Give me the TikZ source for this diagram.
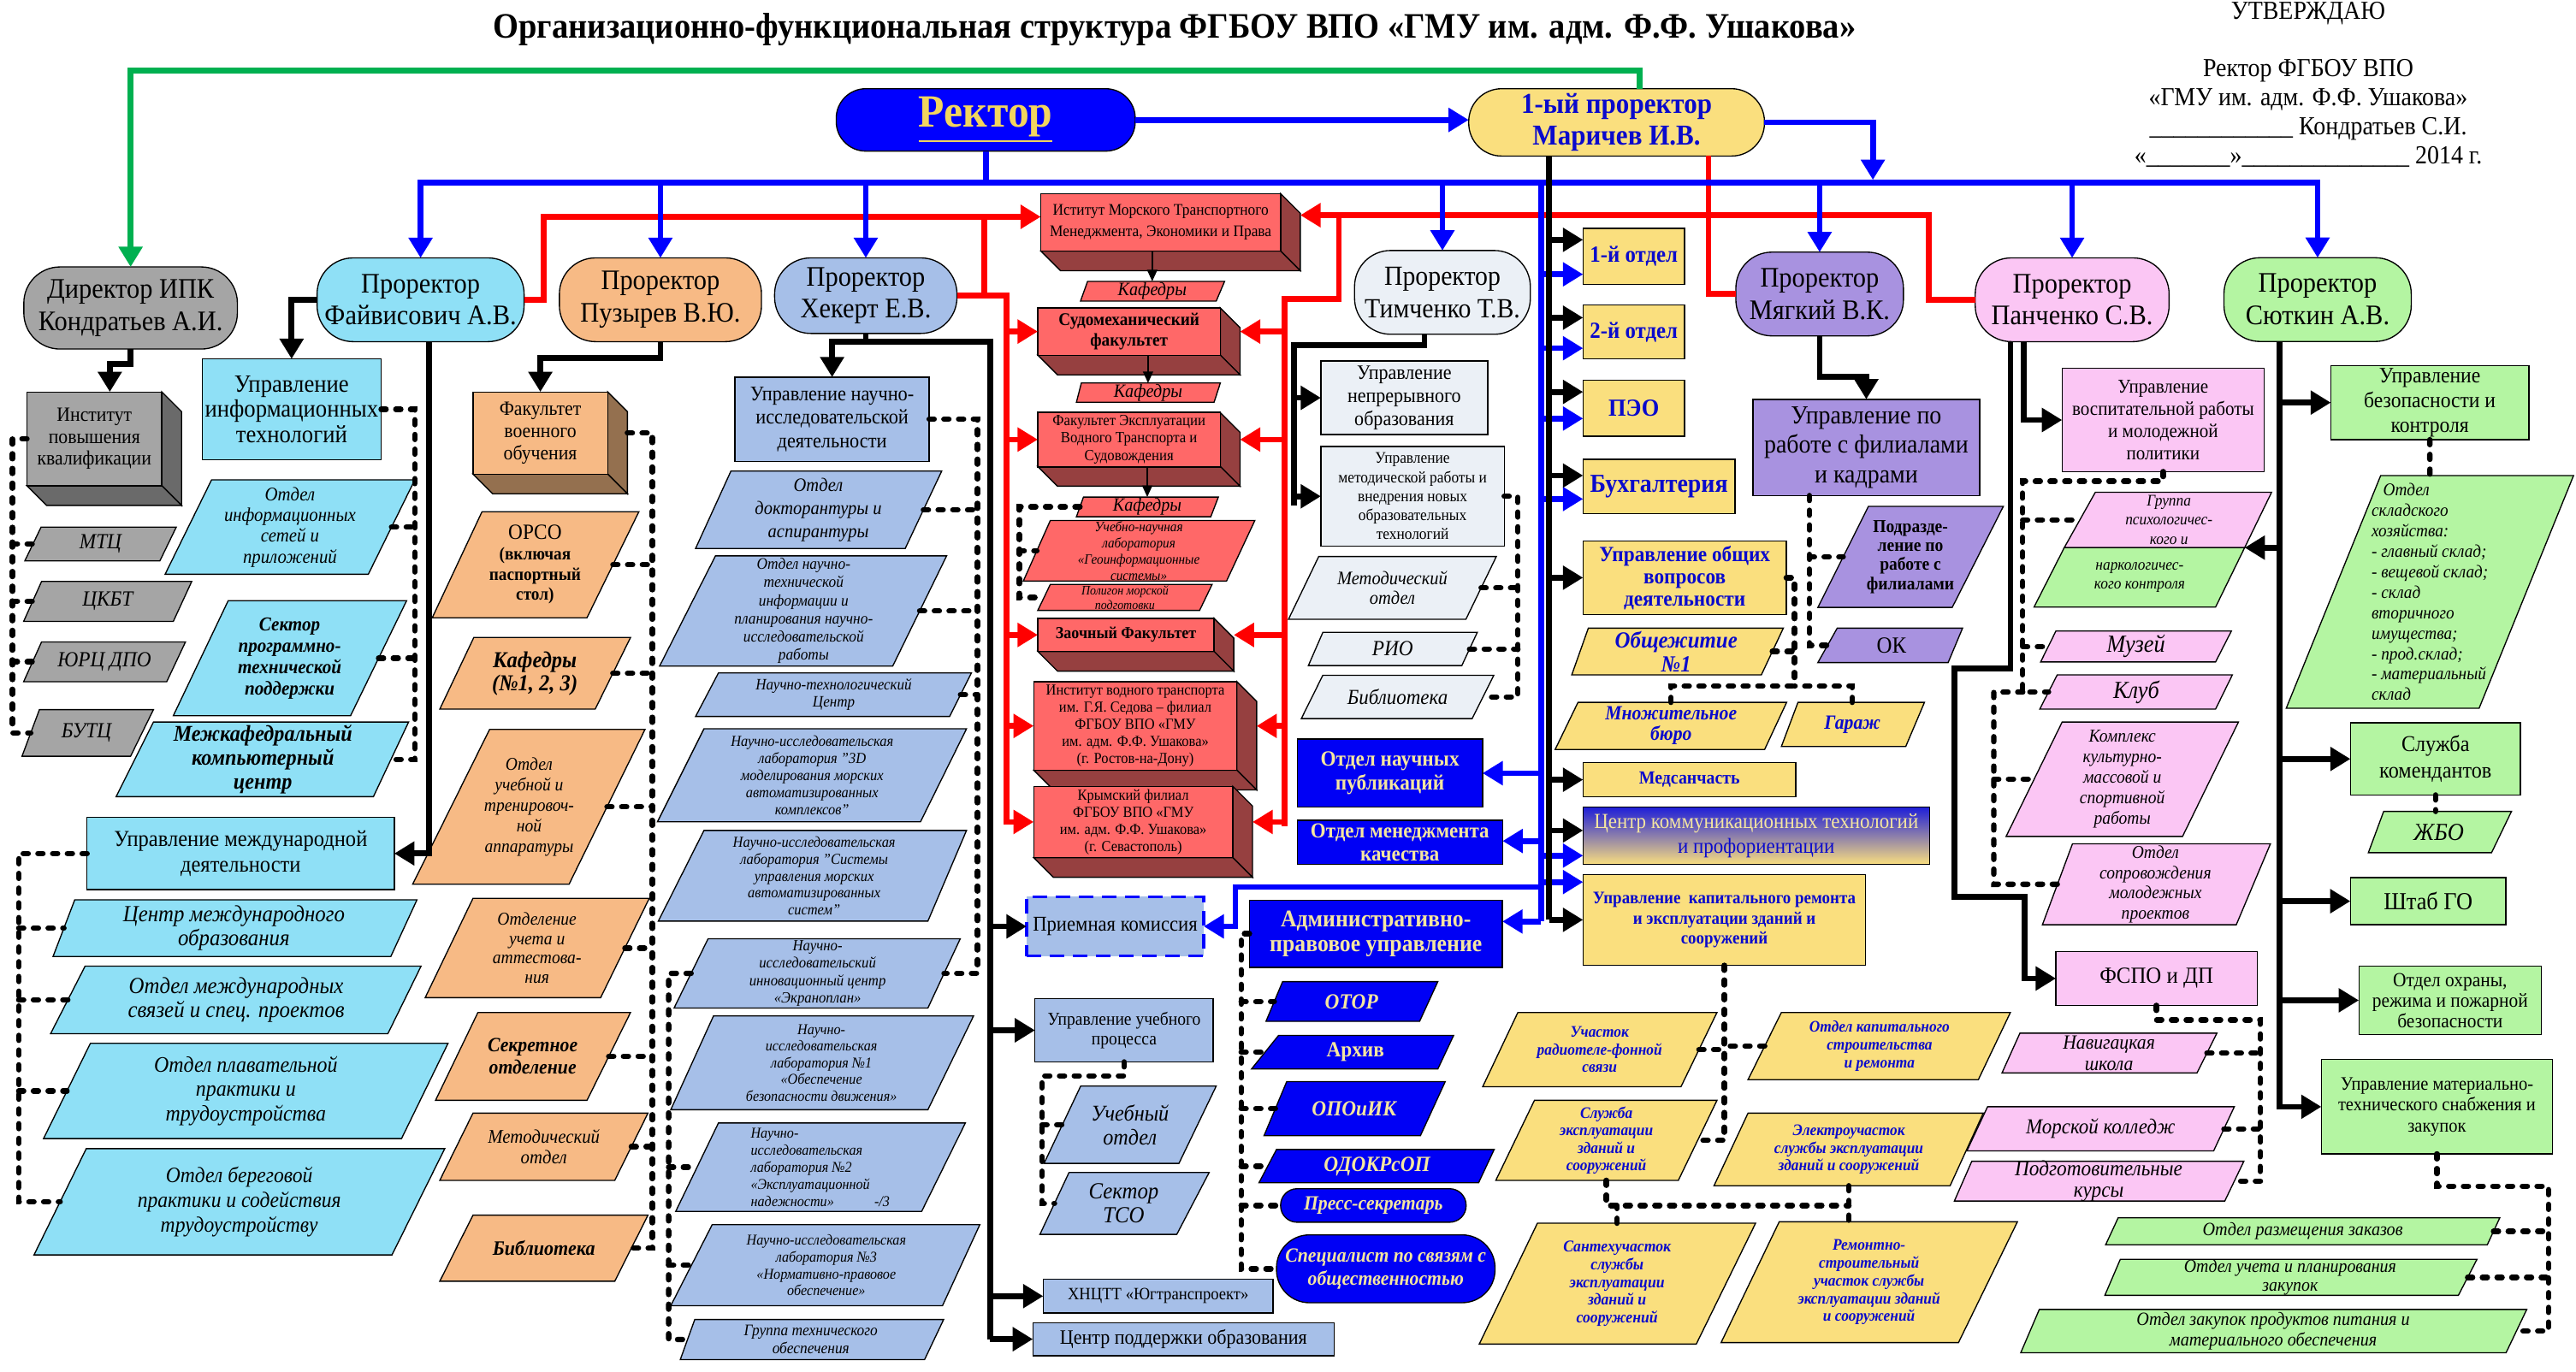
\documentclass[tikz,border=0pt]{standalone}
\usepackage{fontspec}
\setmainfont{Liberation Serif}[FakeStretch=0.92]
\usetikzlibrary{arrows.meta,calc}
\definecolor{cBlue}{HTML}{0000FF}
\definecolor{cRed}{HTML}{FF0000}
\definecolor{cGreen}{HTML}{00B050}
\definecolor{cYel}{HTML}{FADF7E}
\definecolor{cLbl}{HTML}{8FE0F6}
\definecolor{cOrg}{HTML}{F7BA85}
\definecolor{cOrgD}{HTML}{94704F}
\definecolor{cStl}{HTML}{A6BFE8}
\definecolor{cTim}{HTML}{EBF0F6}
\definecolor{cPur}{HTML}{A892E0}
\definecolor{cPnk}{HTML}{FBC6F4}
\definecolor{cGrn}{HTML}{B4F5A2}
\definecolor{cGry}{HTML}{A5A5A5}
\definecolor{cGryD}{HTML}{6A6A6A}
\definecolor{cRd}{HTML}{FF6868}
\definecolor{cRdD}{HTML}{964040}
\definecolor{cDbl}{HTML}{0000F5}
\definecolor{cYtx}{HTML}{F5E6A0}
\definecolor{cBtx}{HTML}{0A0ACC}
\definecolor{cRtx}{HTML}{F2D55F}
\definecolor{cCk}{HTML}{1E1ED8}
\newcommand\fsz[2]{\fontsize{#1}{#2}\selectfont}
% parallelogram: name, opts, xtl, xtr, xbl, xbr, ytop, ybottom, text
\newcommand\pgram[9]{%
 \pgfmathsetmacro\pgcx{(#3+#4+#5+#6)/4}%
 \pgfmathsetmacro\pgcy{(#7+#8)/2}%
 \pgfmathsetmacro\pgw{(#4+#6-#3-#5)/2}%
 \pgfmathsetmacro\pgh{#8-#7}%
 \path[pgb,#2] (#3,#7) -- (#4,#7) -- (#6,#8) -- (#5,#8) -- cycle;%
 \node[pgt,#2,fill=none,draw=none,minimum width=\pgw*0.2mm,minimum height=\pgh*0.2mm] (#1) at (\pgcx,\pgcy) {#9};%
}
% 3D box: name, opts, cx, cy, w, h, depth, side colour, text
\newcommand\boxdd[9]{%
 \pgfmathsetmacro\bxL{#3-#5/2}\pgfmathsetmacro\bxR{#3+#5/2}%
 \pgfmathsetmacro\bxT{#4-#6/2}\pgfmathsetmacro\bxB{#4+#6/2}%
 \pgfmathsetmacro\bxRd{\bxR+#7}\pgfmathsetmacro\bxTd{\bxT+#7}%
 \pgfmathsetmacro\bxBd{\bxB+#7}\pgfmathsetmacro\bxLd{\bxL+#7}%
 \filldraw[fill=#8,draw=black,line width=0.4pt] (\bxR,\bxT) -- (\bxRd,\bxTd) -- (\bxRd,\bxBd) -- (\bxR,\bxB) -- cycle;%
 \filldraw[fill=#8,draw=black,line width=0.4pt] (\bxL,\bxB) -- (\bxR,\bxB) -- (\bxRd,\bxBd) -- (\bxLd,\bxBd) -- cycle;%
 \node[box,#2,minimum width=#5*0.2mm,minimum height=#6*0.2mm] (#1) at (#3,#4) {#9};%
}
\begin{document}
\begin{tikzpicture}[x=0.2mm,y=-0.2mm,
 wh/.style 2 args={minimum width=#1*0.2mm,minimum height=#2*0.2mm},
 box/.style={draw=black,line width=0.4pt,inner sep=1pt,outer sep=0pt,align=center},
 stad/.style={box,rounded corners=4.4mm},
 pgb/.style={draw=black,line width=0.4pt},
 pgt/.style={inner sep=0pt,outer sep=0pt,align=center},
 conn/.style={line width=2pt},
 bk/.style={conn,draw=black},
 bl/.style={conn,draw=cBlue},
 rl/.style={conn,draw=cRed},
 gl/.style={conn,draw=cGreen},
 arr/.style={-{Triangle[length=7pt,width=8pt]}},
 tarr/.style={draw=black,line width=0.5pt,-{Triangle[length=4pt,width=3.5pt]}},
 dotc/.style={draw=black,line width=1.9pt,dash pattern=on 1.7pt off 3.4pt,line cap=round}]
\path[use as bounding box] (0,0) rectangle (1568,835);
\fill[white] (0,0) rectangle (1568,835);

% ---------- title and approval ----------
\node[font=\fsz{12.4}{14}\bfseries] (title) at (715,18) {Организационно-функциональная структура ФГБОУ ВПО «ГМУ им. адм. Ф.Ф. Ушакова»};
\node[font=\fsz{9}{10}] (utv) at (1405,8) {УТВЕРЖДАЮ};
\node[font=\fsz{9}{10},align=center] (appr) at (1405,69) {Ректор ФГБОУ ВПО\\«ГМУ им. адм. Ф.Ф. Ушакова»\\\_\_\_\_\_\_\_\_\_\_\_\_ Кондратьев С.И.\\«\_\_\_\_\_\_\_»\_\_\_\_\_\_\_\_\_\_\_\_\_\_ 2014 г.};

% ---------- top level ----------
\node[stad,rounded corners=3.6mm,fill=cBlue,wh={182}{38},text=cRtx,font=\fsz{16}{18}\bfseries] (rector) at (600,73) {\underline{Ректор}};
\node[stad,rounded corners=4mm,fill=cYel,wh={180}{41},text=cBtx,font=\fsz{10}{11.2}\bfseries] (pro1) at (984,74.5) {1-ый проректор\\Маричев И.В.};

\node[stad,fill=cGry,wh={130}{50},font=\fsz{9.8}{11.2}] (ipk) at (79.5,187.5) {Директор ИПК\\Кондратьев А.И.};
\node[stad,fill=cLbl,wh={126}{51},font=\fsz{9.8}{11.2}] (fai) at (256,182.5) {Проректор\\Файвисович А.В.};
\node[stad,fill=cOrg,wh={123}{51},font=\fsz{9.8}{11.2}] (puz) at (402,182.5) {Проректор\\Пузырев В.Ю.};
\node[stad,fill=cStl,wh={111}{46},font=\fsz{9.8}{11.2}] (hek) at (527,180) {Проректор\\Хекерт Е.В.};
\node[stad,fill=cTim,wh={107}{51},font=\fsz{9.6}{11.2}] (tim) at (878,178) {Проректор\\Тимченко Т.В.};
\node[stad,fill=cPur,wh={102}{51},font=\fsz{9.8}{11.2}] (mya) at (1107.6,179) {Проректор\\Мягкий В.К.};
\node[stad,fill=cPnk,wh={118}{51},font=\fsz{9.8}{11.2}] (pan) at (1261.3,182.5) {Проректор\\Панченко С.В.};
\node[stad,fill=cGrn,wh={114}{51},font=\fsz{9.8}{11.2}] (syu) at (1410.7,182.4) {Проректор\\Сюткин А.В.};

% ---------- IPK ----------
\boxdd{ipq}{fill=cGry,font=\fsz{7}{7.6}}{57.45}{267.15}{82.1}{57.1}{12}{cGryD}{Институт\\повышения\\квалификации}
\pgram{mtc}{fill=cGry,font=\fsz{7.5}{8}\itshape}{25}{107.3}{15.1}{97.3}{320.9}{341.5}{МТЦ}
\pgram{ckbt}{fill=cGry,font=\fsz{7.5}{8}\itshape}{25.3}{116.7}{14.4}{105.5}{354}{378.3}{ЦКБТ}
\pgram{yurc}{fill=cGry,font=\fsz{7.5}{8}\itshape}{25.3}{112.9}{14.4}{101.5}{390.8}{415}{ЮРЦ ДПО}
\pgram{butc}{fill=cGry,font=\fsz{7.5}{8}\itshape}{24}{93.4}{13.4}{79.5}{432}{460.4}{БУТЦ}

% ---------- Faivisovich ----------
\node[box,fill=cLbl,wh={108.6}{61.4},font=\fsz{8.6}{8.8}] (uit) at (177.5,249.2) {Управление\\информационных\\технологий};
\pgram{ois}{fill=cLbl,font=\fsz{6.7}{7.2}\itshape}{128.8}{252.5}{100.5}{224.2}{292.1}{349.6}{Отдел\\информационных\\сетей и\\приложений}
\pgram{spt}{fill=cLbl,font=\fsz{6.8}{7.4}\bfseries\itshape}{138.9}{247.5}{105.5}{213.4}{365.7}{435.7}{Сектор\\программно-\\технической\\поддержки}
\pgram{mki}{fill=cLbl,font=\fsz{7.8}{8.2}\bfseries\itshape}{93.4}{248.7}{70.7}{227.3}{439.6}{485}{Межкафедральный\\компьютерный\\центр}
\node[box,fill=cLbl,wh={187}{43.9},font=\fsz{7.9}{8.7}] (uma) at (146.5,519.6) {Управление международной\\деятельности};
\pgram{cmo}{fill=cLbl,font=\fsz{8}{8.5}\itshape}{45.5}{253.8}{32.3}{237.9}{547.8}{582.3}{Центр международного\\образования}
\pgram{oms}{fill=cLbl,font=\fsz{8}{8.2}\itshape}{51.8}{256.3}{30.8}{236.1}{588.2}{629.3}{Отдел международных\\связей и спец. проектов}
\pgram{opp}{fill=cLbl,font=\fsz{7.7}{8.4}\itshape}{55}{272.7}{26.5}{244.4}{635.2}{693.2}{Отдел плавательной\\практики и\\трудоустройства}
\pgram{obp}{fill=cLbl,font=\fsz{7.6}{8.7}\itshape}{52.5}{270.7}{20.7}{238.6}{699.3}{764}{Отдел береговой\\практики и содействия\\трудоустройству}

% ---------- Puzyrev ----------
\boxdd{fvo}{fill=cOrg,font=\fsz{7}{7.7}}{328.9}{263.6}{82}{50}{12}{cOrgD}{Факультет\\военного\\обучения}
\pgram{orso}{fill=cOrg,font=\fsz{6.2}{7}\bfseries}{293.4}{388.9}{263.1}{357.3}{311.5}{376.1}{{\fsz{7.5}{9}\mdseries ОРСО}\\(включая\\паспортный\\стол)}
\pgram{kaf}{fill=cOrg,font=\fsz{7.9}{8}\bfseries\itshape}{288.4}{383.8}{267.7}{362.3}{388.1}{431.7}{Кафедры\\(№1, 2, 3)}
\pgram{oyt}{fill=cOrg,font=\fsz{6.3}{7.1}\itshape}{298}{392.6}{251.2}{346.4}{444.1}{538.3}{Отдел\\учебной и\\тренировоч-\\ной\\аппаратуры}
\pgram{ouch}{fill=cOrg,font=\fsz{6.3}{6.7}\itshape}{287.9}{395.2}{258.8}{365.6}{546.9}{607.4}{Отделение\\учета и\\аттестова-\\ния}
\pgram{sek}{fill=cOrg,font=\fsz{7}{7.7}\bfseries\itshape}{290.9}{383.8}{265.1}{357.3}{616.4}{669.9}{Секретное\\отделение}
\pgram{met1}{fill=cOrg,font=\fsz{6.7}{7}\itshape}{287.9}{394.4}{267.7}{374.2}{677.7}{718.6}{Методический\\отдел}
\pgram{bib1}{fill=cOrg,font=\fsz{7.1}{8}\bfseries\itshape}{287.9}{394.4}{267.7}{374.2}{739.8}{780}{Библиотека}

% ---------- Hekert ----------
\node[box,fill=cStl,wh={118.2}{51.2},font=\fsz{7.2}{8.2}] (unid) at (506.5,255.2) {Управление научно-\\исследовательской\\деятельности};
\pgram{odk}{fill=cStl,font=\fsz{6.6}{8}\itshape}{444.9}{573.2}{423.4}{551}{286.8}{333.9}{Отдел\\докторантуры и\\аспирантуры}
\pgram{ont}{fill=cStl,font=\fsz{5.6}{6.3}\itshape}{435.5}{576.2}{401.5}{543.4}{338.4}{405.5}{Отдел научно-\\технической\\информации и\\планирования научно-\\исследовательской\\работы}
\pgram{ntc}{fill=cStl,font=\fsz{5.5}{5.9}\itshape}{437.3}{591.3}{423.4}{578}{409.7}{436.2}{Научно-технологический\\Центр}
\pgram{nl3d}{fill=cStl,font=\fsz{5.3}{5.9}\itshape}{428.5}{588.3}{400.2}{560.3}{443.7}{500.3}{Научно-исследовательская\\лаборатория "3D\\моделирования морских\\автоматизированных\\комплексов"}
\pgram{nlsu}{fill=cStl,font=\fsz{5.3}{5.9}\itshape}{428.5}{588.3}{400.7}{564.8}{505.6}{560.8}{Научно-исследовательская\\лаборатория "Системы\\управления морских\\автоматизированных\\систем"}
\pgram{ekr}{fill=cStl,font=\fsz{5.4}{6.1}\itshape}{431}{584.5}{410.3}{564.8}{571.5}{613.7}{Научно-\\исследовательский\\инновационный центр\\«Экраноплан»}
\pgram{nl1}{fill=cStl,font=\fsz{5.2}{5.8}\itshape}{434.3}{592.6}{408.3}{564.8}{618.5}{675.6}{Научно-\\исследовательская\\лаборатория №1\\«Обеспечение\\безопасности движения»}
\pgram{nl2}{fill=cStl,font=\fsz{5.2}{5.9}\itshape,align=left}{437.3}{587.6}{411.3}{561}{683.7}{737.5}{Научно-\\исследовательская\\лаборатория №2\\«Эксплуатационной\\надежности»\hspace{14pt}-/3}
\pgram{nl3}{fill=cStl,font=\fsz{5.2}{5.9}\itshape}{433.5}{596.4}{408.3}{573.7}{745.6}{794.9}{Научно-исследовательская\\лаборатория №3\\«Нормативно-правовое\\обеспечение»}
\pgram{gto}{fill=cStl,font=\fsz{5.6}{6.3}\itshape}{422.9}{574.4}{414.1}{562.8}{803.3}{827.7}{Группа технического\\обеспечения}
\node[box,fill=cStl,draw=cBlue,dash pattern=on 5pt off 3pt,line width=1pt,wh={107.8}{36},font=\fsz{7.3}{8}] (prk) at (678.8,564) {Приемная комиссия};
\node[box,fill=cStl,wh={108.5}{38.5},font=\fsz{6.3}{6.9}] (uup) at (684.25,627.25) {Управление учебного\\процесса};
\pgram{uch}{fill=cStl,font=\fsz{7.8}{8.2}\itshape}{657.8}{740.3}{635.5}{717.6}{661.2}{708.3}{Учебный\\отдел}
\pgram{sto}{fill=cStl,font=\fsz{8}{8.2}\itshape}{650.7}{736}{633}{716.3}{713.8}{751.5}{Сектор\\ТСО}
\node[box,fill=cStl,wh={139.9}{20.6},font=\fsz{6}{7}] (xnc) at (704.95,789.1) {ХНЦТТ «Югтранспроект»};
\node[box,fill=cStl,wh={183.3}{20.2},font=\fsz{7.1}{8}] (cpo) at (720.35,815.3) {Центр поддержки образования};

% ---------- red block ----------
\boxdd{imt}{fill=cRd,font=\fsz{5.6}{7.5}}{706.5}{135.35}{146}{34.9}{12}{cRdD}{Иститут Морского Транспортного\\Менеджмента, Экономики и Права}
\pgram{kf1}{fill=cRd,font=\fsz{6.5}{7}\itshape}{662}{745.4}{657.7}{740.3}{171.3}{183.3}{Кафедры}
\boxdd{smf}{fill=cRd,font=\fsz{6.2}{7.2}\bfseries}{687.25}{201.85}{111.1}{28.7}{12}{cRdD}{Судомеханический\\факультет}
\pgram{kf2}{fill=cRd,font=\fsz{6.5}{7}\itshape}{658.2}{742.8}{655.2}{739}{233.2}{244.9}{Кафедры}
\boxdd{fex}{fill=cRd,font=\fsz{5.4}{6.1}}{687.25}{267.6}{111.1}{32.8}{12}{cRdD}{Факультет Эксплуатации\\Водного Транспорта и\\Судовождения}
\pgram{kf3}{fill=cRd,font=\fsz{6.5}{7}\itshape}{659.5}{741.6}{655.2}{737}{302.6}{314.6}{Кафедры}
\pgram{unl}{fill=cRd,font=\fsz{4.9}{5.6}\itshape}{639.3}{763.8}{622.9}{746.6}{316.9}{353.7}{Учебно-научная\\лаборатория\\«Геоинформационные\\системы»}
\pgram{pol}{fill=cRd,font=\fsz{4.5}{5.1}\itshape}{639.3}{737.8}{631.7}{730.2}{355.8}{371.6}{Полигон морской\\подготовки}
\boxdd{zao}{fill=cRd,font=\fsz{5.8}{6.5}\bfseries}{685.35}{386.55}{107.3}{20.1}{12}{cRdD}{Заочный Факультет}
\boxdd{ivt}{fill=cRd,font=\fsz{5.3}{5.9}}{691.05}{441.95}{123.7}{53.9}{12}{cRdD}{Институт водного транспорта\\им. Г.Я. Седова – филиал\\ФГБОУ ВПО «ГМУ\\им. адм. Ф.Ф. Ушакова»\\(г. Ростов-на-Дону)}
\boxdd{krm}{fill=cRd,font=\fsz{5.3}{5.9}}{689.8}{500.4}{121.2}{43.4}{12}{cRdD}{Крымский филиал\\ФГБОУ ВПО «ГМУ\\им. адм. Ф.Ф. Ушакова»\\(г. Севастополь)}

% ---------- Timchenko ----------
\node[box,fill=cTim,wh={101.5}{44.8},font=\fsz{7.1}{7.9}] (unp) at (854.75,242.2) {Управление\\непрерывного\\образования};
\node[box,fill=cTim,wh={111.6}{60.7},font=\fsz{5.6}{6.6}] (umr) at (859.8,302.15) {Управление\\методической работы и\\внедрения новых\\образовательных\\технологий};
\pgram{met2}{fill=cTim,font=\fsz{6.6}{6.8}\itshape}{802.7}{910.8}{784.3}{892.3}{338.8}{377}{Методический\\отдел}
\pgram{rio}{fill=cTim,font=\fsz{7.5}{8}\itshape}{805.2}{899.2}{796.4}{889.8}{385}{405.2}{РИО}
\pgram{bib2}{fill=cTim,font=\fsz{7.4}{8}\itshape}{805.2}{909.3}{792.1}{896.1}{411.1}{437.5}{Библиотека}

% ---------- dark blue boxes ----------
\node[box,fill=cDbl,wh={112.8}{41.3},text=cYtx,font=\fsz{7.5}{8.2}\bfseries] (onp) at (846,470.65) {Отдел научных\\публикаций};
\node[box,fill=cDbl,wh={125}{26.9},text=cYtx,font=\fsz{7.4}{8.2}\bfseries] (omk) at (852.1,512.85) {Отдел менеджмента\\качества};
\node[box,fill=cDbl,wh={154}{41},text=cYtx,font=\fsz{8.3}{8.7}\bfseries] (adm) at (837.5,568.5) {Административно-\\правовое управление};
\pgram{otor}{fill=cDbl,text=cYtx,font=\fsz{7.5}{8}\bfseries\itshape}{780.7}{875.2}{770.6}{864.1}{597.6}{621.8}{ОТОР}
\pgram{arh}{fill=cDbl,text=cYtx,font=\fsz{7.5}{8}\bfseries}{778.2}{884.8}{761.8}{875.2}{630.4}{650.8}{Архив}
\pgram{opo}{fill=cDbl,text=cYtx,font=\fsz{7.5}{8}\bfseries\itshape}{783.2}{879.7}{769.4}{864.6}{658.5}{691.4}{ОПОиИК}
\pgram{odo}{fill=cDbl,text=cYtx,font=\fsz{7.5}{8}\bfseries\itshape}{777}{909.5}{766.3}{900}{699.8}{720.1}{ОДОКРсОП}
\node[stad,rounded corners=2mm,fill=cDbl,wh={112.9}{20.4},text=cYtx,font=\fsz{7}{8}\bfseries\itshape] (prs) at (835.95,733.9) {Пресс-секретарь};
\node[stad,rounded corners=4mm,fill=cDbl,wh={133}{41.3},text=cYtx,font=\fsz{7}{8}\bfseries\itshape] (spec) at (843.5,772.45) {Специалист по связям с\\общественностью};

% ---------- first vice-rector boxes ----------
\node[box,fill=cYel,wh={61.8}{34},text=cBtx,font=\fsz{8}{9}\bfseries] (o1) at (994.5,156) {1-й отдел};
\node[box,fill=cYel,wh={61.8}{32.8},text=cBtx,font=\fsz{8}{9}\bfseries] (o2) at (994.5,202.1) {2-й отдел};
\node[box,fill=cYel,wh={61.8}{34.1},text=cBtx,font=\fsz{8.5}{9}\bfseries] (peo) at (994.5,248.45) {ПЭО};
\node[box,fill=cYel,wh={92.4}{33.2},text=cBtx,font=\fsz{9}{10}\bfseries] (bux) at (1009.8,296.2) {Бухгалтерия};
\node[box,fill=cYel,wh={123.7}{44.8},text=cBtx,font=\fsz{7.5}{7.7}\bfseries] (uov) at (1025.45,351.7) {Управление общих\\вопросов\\деятельности};
\pgram{obs}{fill=cYel,text=cBtx,font=\fsz{8}{8.2}\bfseries\itshape}{966.8}{1085.5}{956.7}{1072.1}{382.4}{410.9}{Общежитие\\№1}
\pgram{mnb}{fill=cYel,text=cBtx,font=\fsz{7}{7.1}\bfseries\itshape}{960.5}{1087.5}{946.6}{1074.1}{427.6}{456.3}{Множительное\\бюро}
\pgram{gar}{fill=cYel,text=cBtx,font=\fsz{7}{8}\bfseries\itshape}{1094.4}{1171.4}{1084.3}{1160}{427.6}{454.5}{Гараж}
\node[box,fill=cYel,wh={129.5}{20.6},text=cBtx,font=\fsz{6.4}{7}\bfseries] (msc) at (1028.35,474.7) {Медсанчасть};
\node[box,top color=cCk,bottom color=cYel,wh={210.8}{35},font=\fsz{7.4}{8.7}] (ckt) at (1069,508.8) {{\color{cYtx}Центр коммуникационных технологий}\\{\color{cBtx}и профориентации}};
\node[box,fill=cYel,wh={172}{55.2},text=cBtx,font=\fsz{6.1}{7}\bfseries] (ukr) at (1049.6,560.1) {Управление\ \ капитального ремонта\\и эксплуатации зданий и\\сооружений};
\pgram{urs}{fill=cYel,text=cBtx,font=\fsz{5.6}{6.1}\bfseries\itshape}{923.9}{1045.1}{902.5}{1023.2}{616.4}{661.6}{Участок\\радиотеле-фонной\\связи}
\pgram{oks}{fill=cYel,text=cBtx,font=\fsz{5.6}{6.1}\bfseries\itshape}{1084.3}{1223.7}{1064}{1204.2}{616.4}{657.3}{Отдел капитального\\строительства\\и ремонта}
\pgram{sle}{fill=cYel,text=cBtx,font=\fsz{5.6}{6.1}\bfseries\itshape}{934}{1045.1}{910.5}{1021.6}{669.9}{718.6}{Служба\\эксплуатации\\зданий и\\сооружений}
\pgram{eluc}{fill=cYel,text=cBtx,font=\fsz{5.6}{6.1}\bfseries\itshape}{1064}{1207.2}{1043.3}{1187}{677.7}{721.9}{Электроучасток\\службы эксплуатации\\зданий и сооружений}
\pgram{san}{fill=cYel,text=cBtx,font=\fsz{5.7}{6.2}\bfseries\itshape}{935.8}{1068.6}{900.4}{1032.5}{744.7}{818.3}{Сантехучасток\\службы\\эксплуатации\\зданий и\\сооружений}
\pgram{rem}{fill=cYel,text=cBtx,font=\fsz{5.6}{6.2}\bfseries\itshape}{1083}{1228}{1047.6}{1192.1}{743.8}{817.4}{Ремонтно-\\строительный\\участок службы\\эксплуатации зданий\\и сооружений}

% ---------- Myagkiy ----------
\node[box,fill=cPur,wh={138}{58.6},font=\fsz{9}{10.2}] (upf) at (1136,272.4) {Управление по\\работе с филиалами\\и кадрами};
\pgram{pod}{fill=cPur,font=\fsz{6.3}{6.6}\bfseries}{1137.3}{1219.4}{1106.5}{1188.3}{308.3}{369.8}{Подразде-\\ление по\\работе с\\филиалами}
\pgram{okk}{fill=cPur,font=\fsz{8}{9}}{1118.3}{1194.6}{1106.5}{1185.8}{382.4}{403.4}{ОК}

% ---------- Panchenko ----------
\node[box,fill=cPnk,wh={122.9}{62.8},font=\fsz{6.8}{7.7}] (uvr) at (1316.65,255.7) {Управление\\воспитательной работы\\и молодежной\\политики};
\pgram{grpa}{fill=cPnk,font=\fsz{5.6}{6.6}\itshape}{1275.4}{1382.7}{1256.5}{1366.3}{299.7}{333.4}{Группа\\психологичес-\\кого и}
\pgram{grpb}{fill=cGrn,font=\fsz{5.6}{6.6}\itshape}{1256.5}{1366.3}{1238.1}{1348.6}{333.4}{369.6}{наркологичес-\\кого контроля}
\coordinate (grpR) at (1366.3,333.4);
\pgram{muz}{fill=cPnk,font=\fsz{8.5}{9}\itshape}{1251.4}{1358.2}{1242.1}{1348.6}{384.2}{403}{Музей}
\pgram{klb}{fill=cPnk,font=\fsz{8.5}{9}\itshape}{1252.2}{1358.8}{1241.6}{1348.6}{410.9}{431.7}{Клуб}
\pgram{kmp}{fill=cPnk,font=\fsz{6.3}{7.1}\itshape}{1255.2}{1362.5}{1221.1}{1328.5}{439.6}{509.2}{Комплекс\\культурно-\\массовой и\\спортивной\\работы}
\pgram{osp}{fill=cPnk,font=\fsz{6.3}{7}\itshape}{1261.5}{1382}{1243.2}{1361.2}{513.7}{563}{Отдел\\сопровождения\\молодежных\\проектов}
\node[box,fill=cPnk,wh={122.5}{32.8},font=\fsz{8}{9}] (fsp) at (1312.65,595.7) {ФСПО и ДП};
\pgram{nvs}{fill=cPnk,font=\fsz{7}{7.4}\itshape}{1229.5}{1349.4}{1218.6}{1337.3}{629}{653.2}{Навигацкая\\школа}
\pgram{mkl}{fill=cPnk,font=\fsz{7.4}{8}\itshape}{1209.8}{1360}{1197.2}{1347.4}{673.8}{700.7}{Морской колледж}
\pgram{pdk}{fill=cPnk,font=\fsz{7.5}{7.5}\itshape}{1200.2}{1365.8}{1189.6}{1354.2}{707}{731.2}{Подготовительные\\курсы}

% ---------- Syutkin ----------
\node[box,fill=cGrn,wh={120.5}{45.2},font=\fsz{7.6}{8.5}] (ubk) at (1479,245.1) {Управление\\безопасности и\\контроля};
\pgram{osh}{fill=cGrn,font=\fsz{6.2}{7.1}\itshape,align=left}{1449.1}{1566.5}{1391.6}{1509}{289.5}{431.2}{\hspace{4pt}Отдел\\складского\\хозяйства:\\- главный склад;\\- вещевой склад;\\- склад\\вторичного\\имущества;\\- прод.склад;\\- материальный\\склад}
\node[box,fill=cGrn,wh={103.5}{43.9},font=\fsz{7.8}{9.2}] (skm) at (1482.45,462.05) {Служба\\комендантов};
\pgram{jbo}{fill=cGrn,font=\fsz{8.5}{9}\itshape}{1450.9}{1528.7}{1441.6}{1516.6}{494}{519.1}{ЖБО}
\node[box,fill=cGrn,wh={94.7}{28.7},font=\fsz{8.5}{9}] (shg) at (1478,548.65) {Штаб ГО};
\node[box,fill=cGrn,wh={111.1}{41.6},font=\fsz{6.9}{7.1}] (oox) at (1491.35,609) {Отдел охраны,\\режима и пожарной\\безопасности};
\node[box,fill=cGrn,wh={140.7}{57.4},font=\fsz{6.6}{7.2}] (umt) at (1483.35,673.8) {Управление материально-\\технического снабжения и\\закупок};
\pgram{orz}{fill=cGrn,font=\fsz{6.5}{7}\itshape}{1289.3}{1521.6}{1281.7}{1514}{741.4}{757.8}{Отдел размещения заказов}
\pgram{oup}{fill=cGrn,font=\fsz{6.4}{6.6}\itshape}{1290.6}{1507.7}{1281.2}{1496.4}{766.7}{788.6}{Отдел учета и планирования\\закупок}
\pgram{ozk}{fill=cGrn,font=\fsz{6.5}{7}\itshape}{1241.3}{1538}{1230}{1525.4}{797.2}{823.6}{Отдел закупок продуктов питания и\\материального обеспечения}

% ================= connectors =================
% green
\coordinate (g1) at (998,43);
\draw[gl,arr] (g1 |- pro1.north) -- (g1) -| (ipk.north);

% red
\coordinate (rb) at (331,132);
\draw[rl,arr] (fai.east) -| (rb) -- (rb -| imt.west);
\coordinate (rr) at (1174,131);
\coordinate (imtS) at (791.5,131);
\draw[rl,arr] (pan.west) -| (rr) -- (imtS);
\draw[rl] ($(pro1.south)+(56,0)$) |- (mya.west);
\coordinate (rt) at (815,131);
\coordinate (rtr) at (782,182);
\draw[rl] (rt) |- (rtr) -- (782,503);
\foreach \nm in {smf,fex,zao,ivt,krm} \draw[rl,arr] (rtr |- \nm.east) -- ($(\nm.east)+(12,0)$);
\coordinate (lt) at (612.5,180);
\draw[rl] (hek.east) -- (lt) -- (612.5,502);
\draw[rl] (599,132) -- (599,180);
\foreach \nm in {smf,fex,zao,ivt,krm} \draw[rl,arr] (lt |- \nm.west) -- (\nm.west);

% blue
\coordinate (bj) at (600,111);
\draw[bl,arr] (rector.south) -- (bj) -| (fai.north);
\draw[bl,arr] (bj) -| (syu.north);
\foreach \nm in {puz,hek,tim,mya,pan} \draw[bl,arr] (bj -| \nm.north) -- (\nm.north);
\draw[bl,arr] (rector.east) -- (rector.east -| pro1.west);
\coordinate (b1) at (1140,109.5);
\draw[bl,arr] (pro1.east) -| (b1);
\coordinate (bt) at (938,111);
\draw[bl] (bt) -- (938,561);
\draw[bl,arr] (938,561) -- (adm.east |- 0,561);
\foreach \yy/\nm in {167/o1,212/o2,254.8/peo,303.8/bux,520.9/ckt,537/ukr} \draw[bl,arr] (938,\yy) -- (\nm.west |- 0,\yy);
\draw[bl,arr] (938,470.7) -- (onp.east |- 0,470.7);
\draw[bl,arr] (938,512) -- (omk.east |- 0,512);
\draw[bl,arr] (938,540) -- (752,540) |- (prk.east);

% black
\coordinate (kt) at (943,95.5);
\draw[bk] (kt) -- (943,560);
\draw[bk,arr] (943,560) -- (ukr.west |- 0,560);
\foreach \yy/\nm in {146/o1,193.4/o2,238.6/peo,289.5/bux,351.7/uov,474.7/msc,505.6/ckt} \draw[bk,arr] (943,\yy) -- (\nm.west |- 0,\yy);
\draw[bk,arr] (ipk.south) -- ++(0,9) -| ($(ipq.north)+(9.4,0)$);
\draw[bk,arr] (fai.west) -| (uit.north);
\draw[bk,arr] ($(fai.south)+(5,0)$) |- (uma.east);
\draw[bk,arr] (puz.south) -- ++(0,10) -| (fvo.north);
\draw[bk,arr] (hek.south) -- ++(0,5) -| (unid.north);
\coordinate (hv) at (602.7,208);
\draw[bk] (hek.south) -- ++(0,5) -- (hv) -- (hv |- cpo.west);
\foreach \nm in {prk,uup,xnc,cpo} \draw[bk,arr] (hv |- \nm.west) -- (\nm.west);
\coordinate (tv) at (787.6,210);
\draw[bk] ($(tim.south)+(-11,0)$) |- (tv) -- (787.6,308);
\foreach \nm in {unp,umr} \draw[bk,arr] (tv |- \nm.west) -- (\nm.west);
\draw[bk,arr] (mya.south) -- ++(0,24.8) -| (upf.north);
\draw[bk,arr] ($(pan.south)+(-29.5,0)$) |- (uvr.west);
\draw[bk,arr] ($(pan.south)+(-37.6,0)$) -- ++(0,198.8) -- ++(-34.1,0) -- ++(0,139.2) -- ++(42.9,0) |- (fsp.west);
\coordinate (sv) at (1387.7,207.7);
\draw[bk,arr] (sv) |- (umt.west);
\foreach \nm in {ubk,skm,shg,oox} \draw[bk,arr] (sv |- \nm.west) -- (\nm.west);
\draw[bk,arr] (sv |- grpR) -- (grpR);
\draw[tarr] (kf1.north |- imt.south) -- (kf1.north);
\draw[tarr] (kf2.north |- smf.south) -- (kf2.north);
\draw[tarr] (kf3.north |- fex.south) -- (kf3.north);

% dotted
\coordinate (d1) at (7.6,267.15);
\draw[dotc] (ipq.west) -- (d1) |- (butc.west);
\foreach \nm in {mtc,ckbt,yurc} \draw[dotc] (d1 |- \nm.west) -- (\nm.west);
\coordinate (d2) at (252.5,249.2);
\draw[dotc] (uit.east) -- (d2) |- (mki.east);
\foreach \nm in {ois,spt} \draw[dotc] (\nm.east) -- (\nm.east -| d2);
\coordinate (d3) at (11.4,519.6);
\draw[dotc] (uma.west) -- (d3) |- (obp.west);
\foreach \nm in {cmo,oms,opp} \draw[dotc] (d3 |- \nm.west) -- (\nm.west);
\coordinate (d4) at (397,263.6);
\draw[dotc] ($(fvo.east)+(12,0)$) -- (d4) |- (bib1.east);
\foreach \nm in {orso,kaf,oyt,ouch,sek,met1} \draw[dotc] (\nm.east) -- (\nm.east -| d4);
\coordinate (d5) at (595,255.2);
\draw[dotc] (unid.east) -- (d5) |- (ekr.east);
\foreach \nm in {odk,ont,ntc} \draw[dotc] (\nm.east) -- (\nm.east -| d5);
\coordinate (d6) at (407,592.6);
\draw[dotc] (ekr.west) -- (d6) |- (gto.west);
\foreach \nm in {nl2,nl3} \draw[dotc] (d6 |- \nm.west) -- (\nm.west);
\coordinate (d7) at (620.4,308.6);
\draw[dotc] (kf3.west) -- (d7) |- (pol.west);
\draw[dotc] (d7 |- unl.west) -- (unl.west);
\coordinate (d8) at (923.9,302.15);
\draw[dotc] (umr.east) -- (d8) |- (bib2.east);
\foreach \nm in {met2,rio} \draw[dotc] (\nm.east) -- (\nm.east -| d8);
\coordinate (d9) at (1101.4,301.7);
\draw[dotc] (d9) |- (okk.west);
\draw[dotc] (d9 |- pod.west) -- (pod.west);
\coordinate (d10) at (1092.3,351.7);
\coordinate (d10b) at (1092.3,417.7);
\draw[dotc] (uov.east) -- (d10) -- (d10b);
\draw[dotc] (obs.east) -- (obs.east -| d10);
\draw[dotc] (mnb.north) |- (d10b);
\draw[dotc] (gar.north) |- (d10b);
\draw[dotc] (ukr.south) |- (sle.east);
\draw[dotc] (urs.east) -- (urs.east -| ukr.south);
\draw[dotc] (oks.west) -- (oks.west -| ukr.south);
\coordinate (d11) at (977.8,733.9);
\draw[dotc] (sle.south) -- (d11) -- (eluc.south |- d11);
\draw[dotc] (eluc.south) -- (eluc.south |- rem.north);
\draw[dotc] (san.north) -- (san.north |- d11);
\coordinate (d12) at (755.5,568.5);
\draw[dotc] (adm.west) -- (d12) |- (spec.west);
\foreach \nm in {otor,arh,opo,odo,prs} \draw[dotc] (d12 |- \nm.west) -- (\nm.west);
\coordinate (d13) at (634.3,655);
\draw[dotc] (uup.south) |- (d13) |- (sto.west);
\draw[dotc] (d13 |- uch.west) -- (uch.west);
\coordinate (d14) at (1231.2,293);
\draw[dotc] (uvr.south) |- (d14) |- (klb.west);
\foreach \nm in {grpa,muz} \draw[dotc] (d14 |- \nm.west) -- (\nm.west);
\coordinate (d15) at (1213.6,421.3);
\draw[dotc] (d14 |- klb.west) -- (d15) |- (osp.west);
\draw[dotc] (d15 |- kmp.west) -- (kmp.west);
\coordinate (d16) at (1375.9,620.9);
\draw[dotc] (fsp.south) |- (d16) |- (pdk.east);
\foreach \nm in {nvs,mkl} \draw[dotc] (\nm.east) -- (\nm.east -| d16);
\draw[dotc] (ubk.south) -- (osh.north);
\draw[dotc] (skm.south) -- (skm.south |- jbo.north);
\coordinate (d17) at (1551.2,722.2);
\draw[dotc] (umt.south) |- (d17) |- (ozk.east);
\foreach \nm in {orz,oup} \draw[dotc] (\nm.east) -- (\nm.east -| d17);
\end{tikzpicture}
\end{document}
